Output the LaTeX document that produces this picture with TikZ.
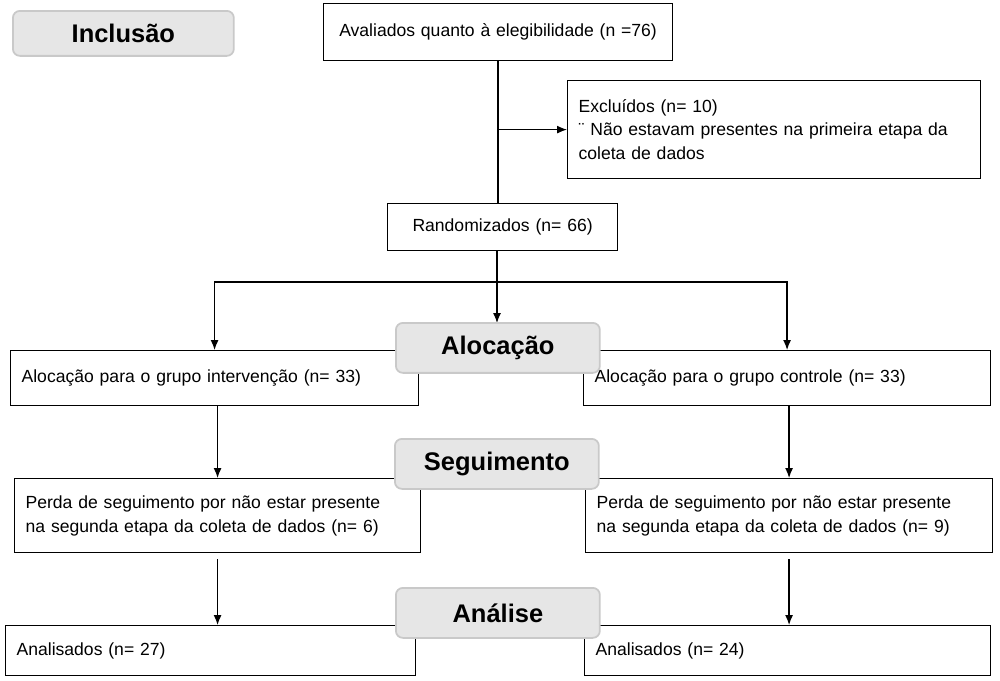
\documentclass[tikz,border=0pt]{standalone}
\usepackage{fontspec}
\setmainfont{Liberation Sans}
\usetikzlibrary{positioning, arrows.meta}
\definecolor{stageFill}{HTML}{E6E6E6}
\definecolor{stageLine}{HTML}{C9C9C9}
\tikzstyle{stageTitle} =[fill=stageFill, draw=stageLine, line width=1pt, rounded corners=4pt, anchor=north west, minimum width=4.08cm, minimum height=1cm, font=\fontsize{14.5}{16}\selectfont\bfseries]
\tikzstyle{flowBox} =[draw, line width=0.7pt, anchor=north west, align=left, inner xsep=0.22cm, font=\fontsize{10}{13.5}\selectfont]
\tikzstyle{flowArrow} =[-{Latex[length=2mm, width=1.6mm]}, line width=0.7pt, black]

\begin{document}
\begin{tikzpicture}[x=0.02cm, y=-0.02cm]
\useasboundingbox (0,0) rectangle (1000,680);

\node (aval) [flowBox, align=center, text width=6.54cm, minimum height=1.14cm] at (323,3) {Avaliados quanto à elegibilidade (n =76)};

\node (excl) [flowBox, text width=7.82cm, minimum height=1.96cm] at (567,80) {Excluídos (n= 10)\\¨ Não estavam presentes na primeira etapa da\\coleta de dados};

\node (rand) [flowBox, align=center, text width=4.16cm, minimum height=0.94cm] at (387,203) {Randomizados (n= 66)};

\node (alocL) [flowBox, text width=7.72cm, minimum height=1.1cm] at (10,350) {Alocação para o grupo intervenção (n= 33)};
\node (alocR) [flowBox, text width=7.7cm, minimum height=1.1cm] at (583,350) {Alocação para o grupo controle (n= 33)};

\node (perdaL) [flowBox, text width=7.68cm, minimum height=1.48cm] at (14,478) {Perda de seguimento por não estar presente\\na segunda etapa da coleta de dados (n= 6)};
\node (perdaR) [flowBox, text width=7.7cm, minimum height=1.48cm] at (585,478) {Perda de seguimento por não estar presente\\na segunda etapa da coleta de dados (n= 9)};

\node (anaL) [flowBox, text width=7.76cm, minimum height=1cm] at (5,625) {Analisados (n= 27)};
\node (anaR) [flowBox, text width=7.68cm, minimum height=1cm] at (584,625) {Analisados (n= 24)};

%connectors
\coordinate (split) at (497,282);

\draw[line width=0.7pt]
	(aval.south) -- (aval.south |- rand.north);

\draw[flowArrow]
	(aval.south |- excl.west) -- (excl.west);

\draw[flowArrow]
	(split |- rand.south) -- (split |- 0,323);

\draw[flowArrow]
	(split) -| (alocL);

\draw[flowArrow]
	(split) -| (alocR);

\draw[flowArrow]
	(perdaL.north |- alocL.south) -- (perdaL);

\draw[flowArrow]
	(perdaR.north |- alocR.south) -- (perdaR);

\draw[flowArrow]
	([yshift=-0.12cm]perdaL.south) -- (perdaL.south |- anaL.north);

\draw[flowArrow]
	([yshift=-0.12cm]perdaR.south) -- (perdaR.south |- anaR.north);

%stage titles
\node (inclusao) [stageTitle, minimum width=4.42cm, minimum height=0.9cm] at (12,10) {Inclusão};
\node (alocTitle) [stageTitle] at (395,322) {Alocação};
\node (segTitle) [stageTitle] at (394,438) {Seguimento};
\node (anaTitle) [stageTitle] at (395,587) {Análise};
\end{tikzpicture}
\end{document}
